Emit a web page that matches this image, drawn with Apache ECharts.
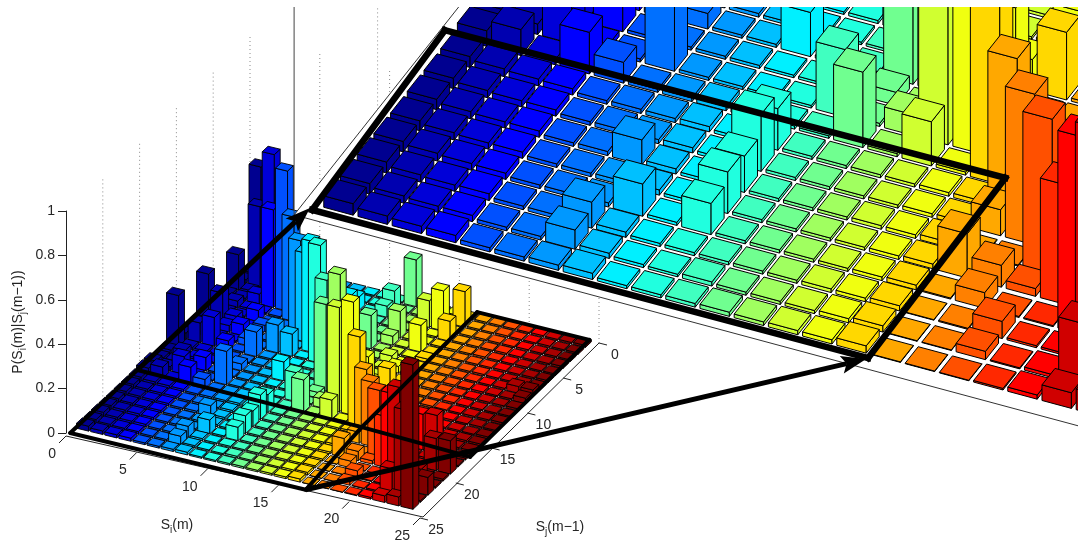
<!DOCTYPE html>
<html><head><meta charset="utf-8">
<script src="https://cdn.jsdelivr.net/npm/echarts@6/dist/echarts.min.js"></script>
<style>html,body{margin:0;padding:0;background:#fff}#c{width:1078px;height:542px}</style></head>
<body><div id="c"></div>
<script>
// ---- DATA: P(Si|Sj), one list per Si, values for Sj = 1..24 ----
const si01=[.46,.014,.016,.16,.014,.016,.014,.20,.014,.016,.03,.23,.016,.014,.03,.03,.021,.02,.02,.019,.02,.021,.02,.022];
const si02=[.012,.012,.36,.012,.012,.03,.012,.13,.012,.012,.09,.012,.03,.012,.02,.05,.015,.014,.014,.014,.015,.014,.014,.016];
const si03=[.01,.01,.61,.01,.045,.01,.01,.04,.03,.01,.13,.01,.01,.01,.08,.01,.013,.012,.012,.012,.013,.012,.012,.014];
const si04=[.008,.008,.008,.008,.44,.008,.05,.008,.05,.008,.04,.008,.008,.06,.01,.08,.012,.012,.012,.012,.012,.013,.012,.014];
const si05=[.006,.006,.006,.006,.63,.006,.006,.03,.006,.03,.006,.006,.02,.006,.006,.04,.007,.007,.007,.007,.007,.007,.007,.008];
const si06=[.006,.006,.006,.006,.006,.47,.006,.006,.006,.006,.11,.006,.03,.006,.15,.006,.008,.008,.008,.007,.007,.007,.007,.008];
const si07=[.006,.006,.006,.007,.006,.006,.41,.006,.006,.125,.006,.007,.006,.006,.006,.007,.008,.008,.048,.008,.008,.05,.037,.01];
const si08=[.006,.006,.006,.006,.006,.006,.007,.40,.006,.10,.006,.006,.006,.006,.006,.008,.01,.01,.01,.01,.062,.01,.01,.012];
const si09=[.005,.006,.06,.10,.005,.005,.005,.006,.50,.005,.005,.005,.085,.005,.005,.005,.006,.006,.006,.006,.006,.006,.006,.006];
const si10=[.005,.005,.006,.005,.006,.005,.005,.006,.005,.53,.006,.005,.005,.005,.005,.006,.08,.11,.07,.08,.06,.006,.005,.006];
const si11=[.005,.086,.05,.006,.005,.006,.005,.005,.005,.005,.42,.005,.006,.005,.13,.005,.006,.006,.006,.006,.006,.006,.008,.007];
const si12=[.21,.005,.006,.005,.006,.005,.15,.005,.006,.005,.005,.005,.39,.025,.006,.145,.006,.006,.006,.006,.006,.006,.006,.008];
const si13=[.005,.006,.005,.006,.12,.04,.005,.006,.005,.006,.005,.005,.54,.006,.04,.006,.006,.006,.006,.006,.006,.006,.006,.007];
const si14=[.005,.006,.12,.005,.006,.005,.006,.03,.006,.005,.006,.005,.006,.006,.47,.085,.006,.006,.007,.006,.006,.007,.006,.008];
const si15=[.006,.005,.18,.006,.005,.12,.006,.006,.03,.006,.006,.06,.20,.006,.51,.006,.007,.007,.007,.007,.007,.007,.008,.008];
const si16=[.006,.16,.005,.09,.006,.006,.015,.006,.006,.006,.006,.13,.006,.006,.006,.40,.008,.008,.01,.009,.009,.01,.012,.014];
const si17=[.006,.006,.006,.006,.007,.006,.006,.007,.006,.006,.007,.006,.006,.007,.006,.006,.30,.05,.002,.085,.002,.001,.001,.001];
const si18=[.006,.006,.007,.006,.006,.006,.007,.006,.006,.007,.006,.006,.007,.006,.006,.006,.002,.29,.002,.042,.03,.002,.001,.001];
const si19=[.006,.007,.006,.006,.007,.006,.006,.006,.007,.006,.006,.007,.006,.006,.006,.007,.002,.002,.30,.015,.002,.033,.016,.001];
const si20=[.006,.006,.006,.007,.006,.006,.007,.006,.006,.006,.007,.006,.006,.007,.006,.006,.002,.002,.002,.23,.002,.004,.002,.003];
const si21=[.007,.006,.007,.006,.006,.007,.006,.006,.007,.006,.006,.006,.007,.006,.007,.007,.16,.006,.004,.004,.38,.004,.006,.008];
const si22=[.006,.007,.006,.006,.007,.006,.006,.007,.006,.007,.006,.007,.006,.007,.009,.009,.17,.008,.008,.006,.008,.455,.12,.03];
const si23=[.007,.006,.007,.007,.006,.007,.007,.03,.007,.007,.006,.007,.007,.006,.009,.009,.009,.009,.145,.008,.07,.008,.40,.04];
const si24=[.009,.007,.007,.009,.007,.009,.009,.03,.025,.009,.007,.009,.007,.009,.009,.009,.009,.007,.15,.009,.007,.08,.007,.65];
const siLists=[si01,si02,si03,si04,si05,si06,si07,si08,si09,si10,si11,si12,si13,si14,si15,si16,si17,si18,si19,si20,si21,si22,si23,si24];
const siColors=['#000090','#0000b0','#0000d8','#0000ff','#0050ff','#0070ff','#0098ff','#00c0ff','#00f0ff','#20ffdf','#40ffc0','#70ff90','#a0ff60','#d0ff30','#f0ff10','#ffd800','#ffa800','#ff8000','#ff5000','#ff2800','#ff0000','#d00000','#a80000','#800000'];
const axisTicks=[0,5,10,15,20,25];

// ---- VIEW SETTINGS ----
const W=1078,H=542,halfU=.43,halfV=.39,ink='#000',textInk='#262626',font='"Liberation Sans",Arial,sans-serif';
const leftView={o:[258,265],u:[14.1,3.4],v:[-7.5,7.04],z:222,line:.9,
  corners:{K:[250,258],R:[599,343],B:[420,518],L:[66,436]}};
const insetView={o:[345,203],u:[34.2,9.2],v:[-16.7,21.1],z:520,line:1};
const floorL=(si,sj)=>[leftView.o[0]+(si-1)*leftView.u[0]+(sj-1)*leftView.v[0],leftView.o[1]+(si-1)*leftView.u[1]+(sj-1)*leftView.v[1]];
const floorI=(si,sj)=>[insetView.o[0]+(si-1)*insetView.u[0]+(sj-24)*insetView.v[0],insetView.o[1]+(si-1)*insetView.u[1]+(sj-24)*insetView.v[1]];
const edgeL=(si,sj)=>{const c=leftView.corners,a=si/25,b=sj/25;
  return [0,1].map(k=>(1-a)*(1-b)*c.K[k]+a*(1-b)*c.R[k]+a*b*c.B[k]+(1-a)*b*c.L[k]);};

// frames, as (Si,Sj) corners on each floor
const leftFrame=[[[.5,25.1],[17.2,25.1]],[[.5,25.1],[.5,16.15]],[[.5,16.15],[16.6,16.5]],[[16.6,16.5],[24.5,16.9]],[[17.2,25.1],[16.6,16.5]],[[16.6,16.5],[16.2,.35]],[[16.2,.35],[24.2,.43]],[[24.2,.43],[24.5,16.9]]];
const insetFrame=[[[.34,24.62],[16.57,24.56]],[[16.57,24.56],[16.44,16.08]],[[16.44,16.08],[.11,16.2]],[[.11,16.2],[.34,24.62]]];
const arrowTail1=[.5,16.15],arrowTip1=[.25,24.56],arrowTail2=[17.2,25.1],arrowTip2=[16.54,24.62];

const cells=[];
for(let sj=1;sj<=24;sj++)for(let si=1;si<=24;si++)cells.push([si,sj,siLists[si-1][sj-1]]);

function barItem(floor,view){return function(p,api){
  const si=api.value(0),sj=api.value(1),z=api.value(2),h=z*view.z,fill=siColors[si-1];
  const base=[floor(si-halfU,sj+halfV),floor(si+halfU,sj+halfV),floor(si+halfU,sj-halfV),floor(si-halfU,sj-halfV)];
  const top=base.map(q=>[q[0],q[1]-h]);
  const pc=a=>a.map(q=>api.coord(q));
  const st={fill,stroke:ink,lineWidth:view.line,lineJoin:'round'};
  return {type:'group',silent:true,children:[
    {type:'polygon',shape:{points:pc([base[0],base[1],top[1],top[0]])},style:st},
    {type:'polygon',shape:{points:pc([base[1],base[2],top[2],top[1]])},style:st},
    {type:'polygon',shape:{points:pc(top)},style:st}]};
};}
const seg=(api,a,b,style)=>({type:'line',silent:true,shape:{x1:api.coord(a)[0],y1:api.coord(a)[1],x2:api.coord(b)[0],y2:api.coord(b)[1]},style});
function once(z,fn){return {type:'custom',xAxisIndex:0,yAxisIndex:0,z,animation:false,silent:true,clip:false,data:[[0,0]],
  renderItem:(p,api)=>({type:'group',silent:true,children:fn(api)})};}
const dotted={stroke:'#8a8a8a',lineWidth:1,lineDash:[1,3]};
const txt=(api,q,text,extra)=>{const c=api.coord(q);return {type:'text',silent:true,x:c[0],y:c[1],style:Object.assign({text,fill:textInk,fontSize:14,fontFamily:font,textAlign:'center',textVerticalAlign:'middle'},extra||{})};};
const richName={a:{fontSize:14,fontFamily:font,fill:textInk,lineHeight:20,verticalAlign:'middle'},b:{fontSize:10,fontFamily:font,fill:textInk,lineHeight:12,verticalAlign:'bottom',padding:[8,0,0,0]}};
function arrow(api,tail,tip,w,headLen,headW){
  const dx=tip[0]-tail[0],dy=tip[1]-tail[1],L=Math.hypot(dx,dy),ux=dx/L,uy=dy/L,back=[tip[0]-ux*headLen,tip[1]-uy*headLen];
  const n=[-uy,ux];
  return [seg(api,tail,back,{stroke:ink,lineWidth:w}),
    {type:'polygon',silent:true,shape:{points:[tip,[back[0]+n[0]*headW-ux*5,back[1]+n[1]*headW-uy*5],back,[back[0]-n[0]*headW-ux*5,back[1]-n[1]*headW-uy*5]].map(q=>api.coord(q))},style:{fill:ink}}];
}

const chart=echarts.init(document.getElementById('c'),null,{renderer:'canvas'});
chart.setOption({
  animation:false,backgroundColor:'#fff',
  grid:[{left:0,top:0,width:W,height:H,show:false},{left:66,top:211,width:1,height:222,show:false}],
  xAxis:[{gridIndex:0,type:'value',min:0,max:W,show:false},{gridIndex:1,type:'value',min:0,max:1,show:false}],
  yAxis:[{gridIndex:0,type:'value',min:0,max:H,inverse:true,show:false},
    {gridIndex:1,type:'value',min:0,max:1,interval:.2,position:'left',
     axisLine:{show:true,onZero:false,lineStyle:{color:'#222',width:1}},axisTick:{show:true,length:8,lineStyle:{color:'#222'}},splitLine:{show:false},
     axisLabel:{color:textInk,fontSize:14,fontFamily:font,margin:11,formatter:v=>String(+v.toFixed(1))},
     name:'{a|P(S}{b|i}{a|(m)|S}{b|j}{a|(m\u22121))}',nameLocation:'middle',nameRotate:90,nameGap:38,nameTextStyle:{rich:richName}}],
  series:[
    once(1,api=>{
      const out=[];
      axisTicks.forEach(t=>{
        if(t<25){const a=edgeL(0,t);out.push(seg(api,a,[a[0],a[1]-leftView.z],dotted));}
        if(t>0){const a=edgeL(t,0);out.push(seg(api,a,[a[0],a[1]-leftView.z],dotted));}
      });
      const th={stroke:'#222',lineWidth:1};
      out.push(seg(api,edgeL(0,25),[423,517],th),seg(api,[423,517],edgeL(25,0),th));
      axisTicks.forEach(t=>{
        const a=edgeL(t,25),b=edgeL(25,t);
        out.push(seg(api,a,[a[0]-7,a[1]+7],th),seg(api,b,[b[0]+8,b[1]+2],th));
        out.push(txt(api,[a[0]-10,a[1]+18],String(t),{textAlign:'right'}));
        out.push(txt(api,[b[0]+16,b[1]+12],String(t)));
      });
      out.push(txt(api,[177,525],'{a|S}{b|i}{a|(m)}',{rich:richName}));
      out.push(txt(api,[560,527],'{a|S}{b|j}{a|(m\u22121)}',{rich:richName}));
      return out;
    }),
    {type:'custom',name:'left',xAxisIndex:0,yAxisIndex:0,z:2,animation:false,silent:true,clip:false,progressive:0,data:cells,renderItem:barItem(floorL,leftView)},
    once(3,api=>leftFrame.map(s=>seg(api,floorL(s[0][0],s[0][1]),floorL(s[1][0],s[1][1]),{stroke:ink,lineWidth:4,lineCap:'round'}))),
    once(4,api=>{
      const c0=floorI(0,25),cE=floorI(0,14.6),cF=floorI(23,25);
      const out=[{type:'polygon',silent:true,shape:{points:[c0,cE,[W,cE[1]],[W,floorI(22.9,25)[1]],c0].map(q=>api.coord(q))},style:{fill:'#fff'}}];
      const th={stroke:'#333',lineWidth:1};
      out.push(seg(api,c0,cF,th),seg(api,c0,cE,th),seg(api,c0,[c0[0],0],{stroke:'#444',lineWidth:1}));
      const g=floorI(0,20);out.push(seg(api,g,[g[0],0],dotted));
      return out;
    }),
    {type:'custom',name:'inset',xAxisIndex:0,yAxisIndex:0,z:5,animation:false,silent:true,clip:false,progressive:0,data:cells,renderItem:barItem(floorI,insetView)},
    once(6,api=>insetFrame.map(s=>seg(api,floorI(s[0][0],s[0][1]),floorI(s[1][0],s[1][1]),{stroke:ink,lineWidth:6.5,lineCap:'square'}))),
    once(7,api=>[{type:'rect',silent:true,shape:{x:0,y:0,width:W,height:api.coord([0,7])[1]},style:{fill:'#fff'}}]),
    once(8,api=>[].concat(
      arrow(api,floorL(arrowTail1[0],arrowTail1[1]),floorI(arrowTip1[0],arrowTip1[1]),5,20,9),
      arrow(api,floorL(arrowTail2[0],arrowTail2[1]),floorI(arrowTip2[0],arrowTip2[1]),5,20,9)))
  ]
});
</script></body></html>
